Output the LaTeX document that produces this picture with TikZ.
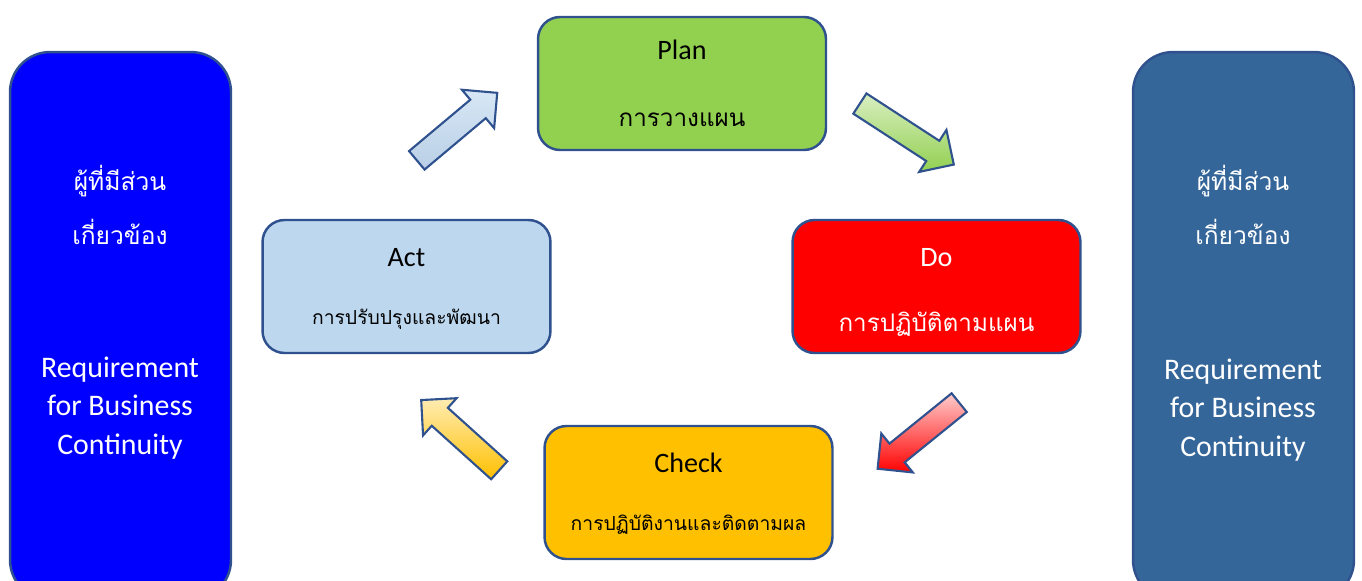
\documentclass[tikz,border=0pt]{standalone}
\usepackage{fontspec}
\setmainfont{Carlito}
\newfontfamily\thaifont[Script=Thai]{Loma}
\usetikzlibrary{shapes.arrows}

\definecolor{edgeblue}{HTML}{2F528F}
\definecolor{sideblue}{HTML}{0000FF}
\definecolor{sidesteel}{HTML}{356699}
\definecolor{planfill}{HTML}{92D050}
\definecolor{dofill}{HTML}{FF0000}
\definecolor{actfill}{HTML}{BDD7EE}
\definecolor{checkfill}{HTML}{FFC000}

\tikzset{
  stage/.style={draw=edgeblue, line width=1.4pt, rounded corners=0.44cm,
    minimum width=5.76cm, minimum height=2.66cm, align=center,
    font=\fontsize{16}{19}\selectfont},
  sidebar/.style={draw=edgeblue, line width=1.4pt, rounded corners=0.8cm,
    minimum width=4.42cm, minimum height=10.96cm},
  sidetext/.style={text=white, align=center, font=\fontsize{17}{22}\selectfont},
  sidethai/.style={text=white, align=center, font=\thaifont\fontsize{14}{31}\selectfont},
  cyclearrow/.style={single arrow, draw=edgeblue, line width=1.2pt,
    inner xsep=0pt, inner ysep=0.22cm, minimum width=0pt,
    single arrow head extend=0.26cm, minimum height=2.1cm, anchor=tail},
}

\begin{document}
\begin{tikzpicture}[x=0.02cm, y=-0.02cm]
  \useasboundingbox (0,0) rectangle (1362,581);

  % side bars
  \node[sidebar, fill=sideblue] (leftbar) at (120.5,326) {};
  \node[sidebar, fill=sidesteel] (rightbar) at (1243.5,326) {};
  \node[sidethai] (leftthai) at (120,205) {ผู้ที่มีส่วน\\เกี่ยวข้อง};
  \node[sidetext] (leftreq) at (120,408) {Requirement\\for Business\\Continuity};
  \node[sidethai] (rightthai) at (1243,205) {ผู้ที่มีส่วน\\เกี่ยวข้อง};
  \node[sidetext] (rightreq) at (1243,410) {Requirement\\for Business\\Continuity};

  % PDCA stages
  \node[stage, fill=planfill] (plan) at (682,83.5) {Plan\\[19pt]{\thaifont\fontsize{13.8}{16}\selectfont การวางแผน}};
  \node[stage, fill=dofill, text=white] (do) at (936.5,286.5) {Do\rule{0pt}{17pt}\\[18pt]{\thaifont\fontsize{13.8}{16}\selectfont การปฏิบัติตามแผน}};
  \node[stage, fill=checkfill] (check) at (688.5,492.5) {Check\rule{0pt}{13pt}\\[14pt]{\thaifont\fontsize{11}{13}\selectfont การปฏิบัติงานและติดตามผล}};
  \node[stage, fill=actfill] (act) at (406.5,286.5) {Act\rule{0pt}{13.5pt}\\[14pt]{\thaifont\fontsize{11}{13}\selectfont การปรับปรุงและพัฒนา}};

  % cycle arrows
  \node[cyclearrow, rotate=40, top color=actfill!60!white, bottom color=actfill!85!edgeblue!80] (toplan) at (416,161) {};
  \node[cyclearrow, rotate=-33, minimum height=2.24cm, top color=planfill!35!white, bottom color=planfill] (todo) at (859,103) {};
  \node[cyclearrow, rotate=219, top color=dofill!20!white, bottom color=dofill] (tocheck) at (960,402) {};
  \node[cyclearrow, rotate=138, top color=checkfill!30!white, bottom color=checkfill] (toact) at (500,471) {};
\end{tikzpicture}
\end{document}
